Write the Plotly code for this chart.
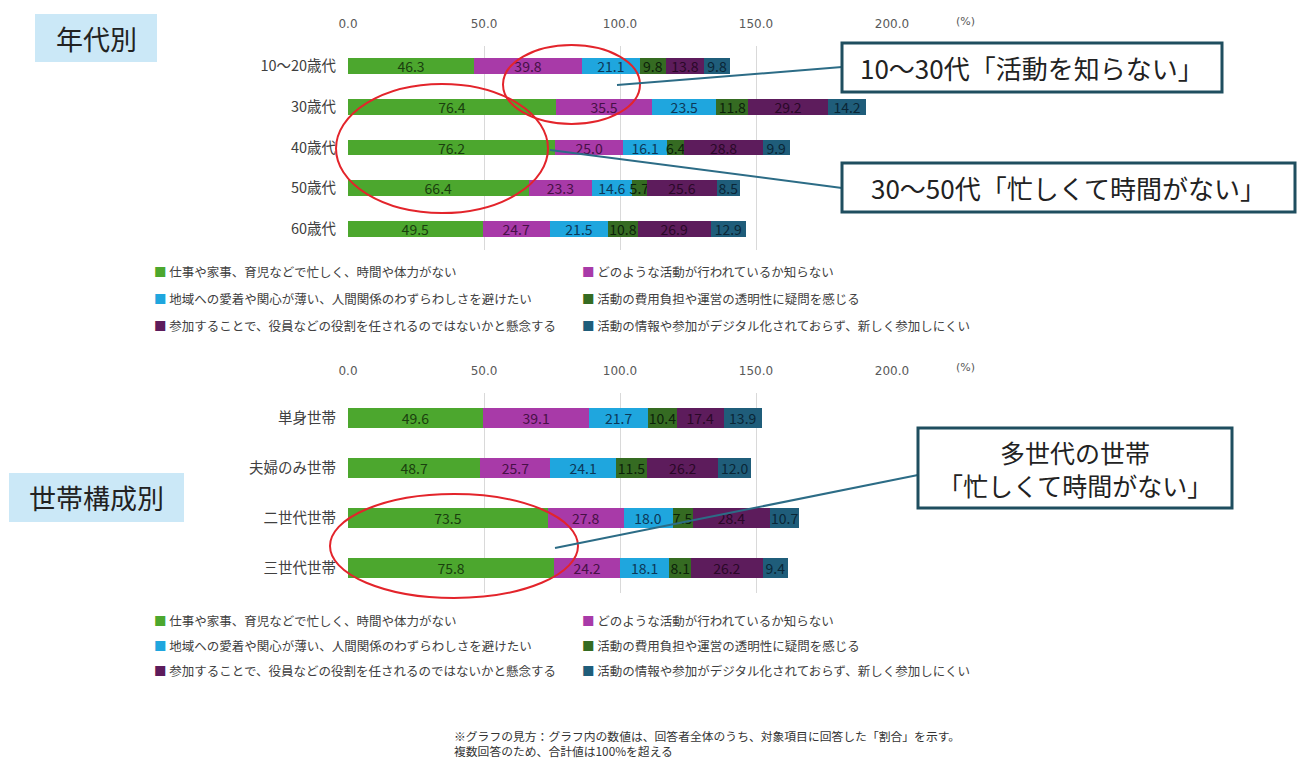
import plotly.graph_objects as go

W, H = 1297, 758

# ---------------- data ----------------
ages = ["10～20歳代", "30歳代", "40歳代", "50歳代", "60歳代"]
households = ["単身世帯", "夫婦のみ世帯", "二世代世帯", "三世代世帯"]

series_names = [
    "仕事や家事、育児などで忙しく、時間や体力がない",
    "どのような活動が行われているか知らない",
    "地域への愛着や関心が薄い、人間関係のわずらわしさを避けたい",
    "活動の費用負担や運営の透明性に疑問を感じる",
    "参加することで、役員などの役割を任されるのではないかと懸念する",
    "活動の情報や参加がデジタル化されておらず、新しく参加しにくい",
]

age_busy = [46.3, 76.4, 76.2, 66.4, 49.5]
age_unknown = [39.8, 35.5, 25.0, 23.3, 24.7]
age_attach = [21.1, 23.5, 16.1, 14.6, 21.5]
age_cost = [9.8, 11.8, 6.4, 5.7, 10.8]
age_role = [13.8, 29.2, 28.8, 25.6, 26.9]
age_digital = [9.8, 14.2, 9.9, 8.5, 12.9]

hh_busy = [49.6, 48.7, 73.5, 75.8]
hh_unknown = [39.1, 25.7, 27.8, 24.2]
hh_attach = [21.7, 24.1, 18.0, 18.1]
hh_cost = [10.4, 11.5, 7.5, 8.1]
hh_role = [17.4, 26.2, 28.4, 26.2]
hh_digital = [13.9, 12.0, 10.7, 9.4]

x_ticks = [0, 50, 100, 150, 200]

# ---------------- styles ----------------
colors = ["#4ca72e", "#a83aa8", "#1fa6de", "#356b22", "#5d1c5c", "#1f5d7a"]
text_colors = ["#1a400e", "#471046", "#0c3858", "#0c220a", "#2a0828", "#0a2636"]

JP = "Noto Sans CJK JP"
NUM = "DejaVu Sans"


def px(x):
    return x / W


def py(y):
    return 1 - y / H


fig = go.Figure()

age_series = [age_busy, age_unknown, age_attach, age_cost, age_role, age_digital]
hh_series = [hh_busy, hh_unknown, hh_attach, hh_cost, hh_role, hh_digital]

for i, vals in enumerate(age_series):
    fig.add_trace(go.Bar(
        y=ages, x=vals, orientation="h", name=series_names[i],
        marker=dict(color=colors[i], line=dict(width=0)),
        width=0.39,
        texttemplate="%{x:.1f}", textposition="inside", insidetextanchor="middle",
        textangle=0, textfont=dict(size=14, color=text_colors[i], family=JP),
        xaxis="x", yaxis="y", showlegend=False, cliponaxis=False,
    ))

for i, vals in enumerate(hh_series):
    fig.add_trace(go.Bar(
        y=households, x=vals, orientation="h", name=series_names[i],
        marker=dict(color=colors[i], line=dict(width=0)),
        width=0.4,
        texttemplate="%{x:.1f}", textposition="inside", insidetextanchor="middle",
        textangle=0, textfont=dict(size=14, color=text_colors[i], family=JP),
        xaxis="x2", yaxis="y2", showlegend=False, cliponaxis=False,
    ))

xdom = [px(348), px(892)]
axis_common = dict(
    range=[0, 200], side="top", tickvals=x_ticks,
    ticktext=[f"{v:.1f}" for v in x_ticks],
    showgrid=True, gridcolor="#d9d9d9", gridwidth=1, zeroline=False,
    showline=False, ticks="outside", ticklen=12, tickcolor="rgba(0,0,0,0)",
    tickfont=dict(size=12, color="#595959", family=NUM), fixedrange=True,
    automargin=False,
)
yaxis_common = dict(
    autorange="reversed", showgrid=False, zeroline=False, showline=False,
    ticks="outside", ticklen=8, tickcolor="rgba(0,0,0,0)",
    tickfont=dict(size=14.5, color="#404040", family=JP), fixedrange=True,
    automargin=False,
)

fig.update_layout(
    width=W, height=H, autosize=False,
    margin=dict(l=0, r=0, t=0, b=0, pad=0),
    paper_bgcolor="white", plot_bgcolor="white",
    barmode="stack",
    uniformtext=dict(minsize=13, mode="show"),
    xaxis=dict(domain=xdom, anchor="y", **axis_common),
    yaxis=dict(domain=[py(249.5), py(45.5)], anchor="x", **yaxis_common),
    xaxis2=dict(domain=xdom, anchor="y2", **axis_common),
    yaxis2=dict(domain=[py(593), py(393)], anchor="x2", **yaxis_common),
)

shapes = []
annotations = []

# section title boxes
for (x0, y0, x1, y1, label) in [(35, 14, 157, 62, "年代別"), (9, 473, 184, 522, "世帯構成別")]:
    shapes.append(dict(type="rect", xref="paper", yref="paper",
                       x0=px(x0), x1=px(x1), y0=py(y1), y1=py(y0),
                       fillcolor="#cbe8f7", line=dict(width=0), layer="below"))
    annotations.append(dict(xref="paper", yref="paper", x=px((x0 + x1) / 2), y=py((y0 + y1) / 2),
                            text=label, showarrow=False, xanchor="center", yanchor="middle",
                            font=dict(size=27, color="#222222", family=JP)))

# (%) labels
for yy in [22, 368]:
    annotations.append(dict(xref="paper", yref="paper", x=px(965), y=py(yy), text="(%)",
                            showarrow=False, xanchor="center", yanchor="middle",
                            font=dict(size=11, color="#595959", family=NUM)))

# legends
legend_cols = [152, 580]
for rows_y in ([272, 298, 325], [620, 645, 670]):
    for i, name in enumerate(series_names):
        r, c = divmod(i, 2)
        annotations.append(dict(
            xref="paper", yref="paper", x=px(legend_cols[c]), y=py(rows_y[r]),
            text=f"<span style='color:{colors[i]}'>■</span> {name}",
            showarrow=False, xanchor="left", yanchor="middle",
            font=dict(size=12.5, color="#404040", family=JP)))

# red ellipses
for (x0, y0, x1, y1) in [(503, 45, 640, 124), (336, 84, 548, 213), (330, 494, 578, 598)]:
    shapes.append(dict(type="circle", xref="paper", yref="paper",
                       x0=px(x0), x1=px(x1), y0=py(y1), y1=py(y0),
                       line=dict(color="#e3242b", width=2)))

# connector lines
for (x0, y0, x1, y1) in [(617, 85, 842, 67), (550, 150, 842, 188), (555, 548, 918, 475)]:
    shapes.append(dict(type="line", xref="paper", yref="paper",
                       x0=px(x0), x1=px(x1), y0=py(y0), y1=py(y1),
                       line=dict(color="#2c6c86", width=2)))

# callout boxes
callouts = [
    (842, 43, 1222, 92, ["10～30代「活動を知らない」"], 26),
    (842, 163, 1295, 212, ["30～50代「忙しくて時間がない」"], 26),
    (918, 428, 1232, 508, ["多世代の世帯", "「忙しくて時間がない」"], 25),
]
for (x0, y0, x1, y1, lines, fs) in callouts:
    shapes.append(dict(type="rect", xref="paper", yref="paper",
                       x0=px(x0), x1=px(x1), y0=py(y1), y1=py(y0),
                       fillcolor="white", line=dict(color="#1f4e5f", width=3)))
    n = len(lines)
    step = 33
    yc = (y0 + y1) / 2
    for k, label in enumerate(lines):
        yy = yc + (k - (n - 1) / 2) * step
        annotations.append(dict(xref="paper", yref="paper", x=px((x0 + x1) / 2), y=py(yy),
                                text=label, showarrow=False, xanchor="center", yanchor="middle",
                                font=dict(size=fs, color="#222222", family=JP)))

# footnote
annotations.append(dict(xref="paper", yref="paper", x=px(452), y=py(735),
                        text="※グラフの見方：グラフ内の数値は、回答者全体のうち、対象項目に回答した「割合」を示す。",
                        showarrow=False, xanchor="left", yanchor="middle",
                        font=dict(size=11.8, color="#333333", family=JP)))
annotations.append(dict(xref="paper", yref="paper", x=px(452), y=py(750),
                        text="複数回答のため、合計値は100%を超える",
                        showarrow=False, xanchor="left", yanchor="middle",
                        font=dict(size=11.8, color="#333333", family=JP)))

fig.update_layout(shapes=shapes, annotations=annotations)

fig.write_html(
    "out.html",
    config={"displayModeBar": False},
    post_script="document.body.style.margin='0';document.body.style.overflow='hidden';",
)
